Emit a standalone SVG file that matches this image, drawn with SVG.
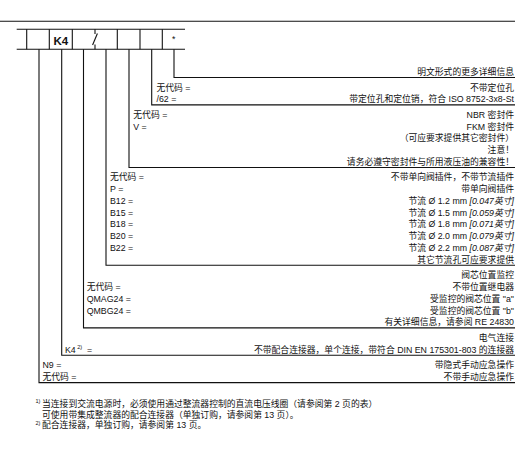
<svg xmlns="http://www.w3.org/2000/svg" width="522" height="468" viewBox="0 0 522 468">
<style>
.t{font-family:"Liberation Sans","Noto Sans CJK SC",sans-serif;font-size:8.8px;fill:#111}
.r{text-anchor:end}
.sup{font-size:5.5px}
.i{font-style:italic}
.ln{stroke:#111;stroke-width:1.1;fill:none}
.b{font-weight:bold;font-size:11.5px}
</style>
<rect width="522" height="468" fill="#fff"/>
<g id="header">
<line class="ln" x1="0" y1="21.3" x2="515" y2="21.3" stroke-width="1.3"/>
</g>
<g id="code-box">
<line class="ln" x1="16.7" y1="29.3" x2="185" y2="29.3"/>
<line class="ln" x1="16.7" y1="49.3" x2="185" y2="49.3"/>
<line class="ln" x1="26.7" y1="29.3" x2="26.7" y2="49.3"/>
<line class="ln" x1="49.3" y1="29.3" x2="49.3" y2="49.3"/>
<line class="ln" x1="72.3" y1="29.3" x2="72.3" y2="49.3"/>
<line class="ln" x1="117.3" y1="29.3" x2="117.3" y2="49.3"/>
<line class="ln" x1="140" y1="29.3" x2="140" y2="49.3"/>
<line class="ln" x1="162.3" y1="29.3" x2="162.3" y2="49.3"/>
<line class="ln" x1="95" y1="29.3" x2="95" y2="34" stroke-width="1.8"/>
<line class="ln" x1="95" y1="44.5" x2="95" y2="49.3" stroke-width="1.8"/>
<line class="ln" x1="92.6" y1="45" x2="97.4" y2="33.5" stroke-width="0.9"/>
<text class="t b" x="60.8" y="44.5" text-anchor="middle">K4</text>
<text class="t" x="173.6" y="42" text-anchor="middle" font-size="7">*</text>
</g>
<g id="connectors">
<path class="ln" d="M174,49.3V77.5H515"/>
<path class="ln" d="M151.7,49.3V104.9H515"/>
<path class="ln" d="M129,49.3V167.5H515"/>
<path class="ln" d="M106,49.3V265.3H515"/>
<path class="ln" d="M83.5,49.3V327.9H515"/>
<path class="ln" d="M61.7,49.3V355.3H515"/>
<path class="ln" d="M39,49.3V382.6H515"/>
</g>
<g id="sec-format">
<text class="t r" x="514" y="74.9">明文形式的更多详细信息</text>
</g>
<g id="sec-locating">
<text class="t" x="156.5" y="90.5">无代码 =</text>
<text class="t" x="156.5" y="102.25">/62 =</text>
<text class="t r" x="514" y="90.5">不带定位孔</text>
<text class="t r" x="514" y="102.25">带定位孔和定位销，符合 ISO 8752-3x8-St</text>
</g>
<g id="sec-seal">
<text class="t" x="133.3" y="117.85">无代码 =</text>
<text class="t" x="133.3" y="129.6">V =</text>
<text class="t r" x="514" y="117.85">NBR 密封件</text>
<text class="t r" x="514" y="129.6">FKM 密封件</text>
<text class="t r" x="514" y="141.35">（可应要求提供其它密封件）</text>
<text class="t r" x="514" y="153.1">注意！</text>
<text class="t r" x="514" y="164.85">请务必遵守密封件与所用液压油的兼容性！</text>
</g>
<g id="sec-insert">
<text class="t" x="110" y="180.45">无代码 =</text>
<text class="t" x="110" y="192.2">P =</text>
<text class="t" x="110" y="203.95">B12 =</text>
<text class="t" x="110" y="215.7">B15 =</text>
<text class="t" x="110" y="227.45">B18 =</text>
<text class="t" x="110" y="239.2">B20 =</text>
<text class="t" x="110" y="250.95">B22 =</text>
<text class="t r" x="514" y="180.45">不带单向阀插件，不带节流插件</text>
<text class="t r" x="514" y="192.2">带单向阀插件</text>
<text class="t r" x="514" y="203.95">节流 Ø 1.2 mm <tspan class="i">[0.047英寸]</tspan></text>
<text class="t r" x="514" y="215.7">节流 Ø 1.5 mm <tspan class="i">[0.059英寸]</tspan></text>
<text class="t r" x="514" y="227.45">节流 Ø 1.8 mm <tspan class="i">[0.071英寸]</tspan></text>
<text class="t r" x="514" y="239.2">节流 Ø 2.0 mm <tspan class="i">[0.079英寸]</tspan></text>
<text class="t r" x="514" y="250.95">节流 Ø 2.2 mm <tspan class="i">[0.087英寸]</tspan></text>
<text class="t r" x="514" y="262.7">其它节流孔可应要求提供</text>
</g>
<g id="sec-monitor">
<text class="t" x="86.7" y="290.05">无代码 =</text>
<text class="t" x="86.7" y="301.8">QMAG24 =</text>
<text class="t" x="86.7" y="313.55">QMBG24 =</text>
<text class="t r" x="514" y="278.3">阀芯位置监控</text>
<text class="t r" x="514" y="290.05">不带位置继电器</text>
<text class="t r" x="514" y="301.8">受监控的阀芯位置 "a"</text>
<text class="t r" x="514" y="313.55">受监控的阀芯位置 "b"</text>
<text class="t r" x="514" y="325.3">有关详细信息，请参阅 RE 24830</text>
</g>
<g id="sec-electrical">
<text class="t" x="65" y="352.65">K4<tspan class="sup" dx="1.5" dy="-3.2">2)</tspan><tspan dx="2.5" dy="3.2"> =</tspan></text>
<text class="t r" x="514" y="340.9">电气连接</text>
<text class="t r" x="514" y="352.65">不带配合连接器，单个连接，带符合 DIN EN 175301-803 的连接器</text>
</g>
<g id="sec-manual">
<text class="t" x="42.5" y="368.25">N9 =</text>
<text class="t" x="42.5" y="380">无代码 =</text>
<text class="t r" x="514" y="368.25">带隐式手动应急操作</text>
<text class="t r" x="514" y="380">不带手动应急操作</text>
</g>
<g id="footnotes">
<text class="t sup" x="35.5" y="403">1)</text>
<text class="t" x="42" y="406.5">当连接到交流电源时，必须使用通过整流器控制的直流电压线圈（请参阅第 2 页的表）</text>
<text class="t" x="42" y="417.7">可使用带集成整流器的配合连接器（单独订购，请参阅第 13 页）。</text>
<text class="t sup" x="35.5" y="424.7">2)</text>
<text class="t" x="42" y="428.2">配合连接器，单独订购，请参阅第 13 页。</text>
</g>
</svg>
